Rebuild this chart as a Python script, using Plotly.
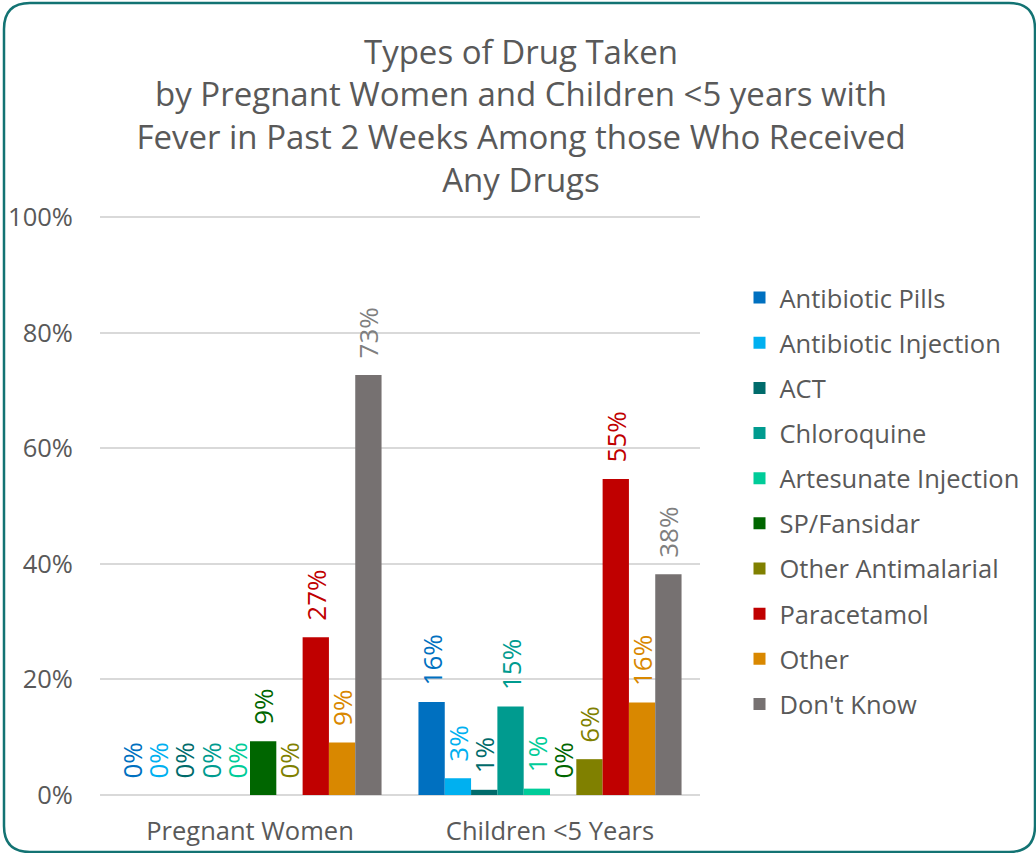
import plotly.graph_objects as go

categories = ["Pregnant Women", "Children <5 Years"]
series_names = ["Antibiotic Pills", "Antibiotic Injection", "ACT", "Chloroquine",
                "Artesunate Injection", "SP/Fansidar", "Other Antimalarial",
                "Paracetamol", "Other", "Don't Know"]
antibiotic_pills = [0, 16.1]
antibiotic_injection = [0, 2.9]
act = [0, 0.9]
chloroquine = [0, 15.3]
artesunate_injection = [0, 1.1]
sp_fansidar = [9.3, 0]
other_antimalarial = [0, 6.2]
paracetamol = [27.3, 54.7]
other = [9.1, 16.0]
dont_know = [72.7, 38.2]
tick_vals = [0, 20, 40, 60, 80, 100]
tick_text = ["0%", "20%", "40%", "60%", "80%", "100%"]

values = [antibiotic_pills, antibiotic_injection, act, chloroquine, artesunate_injection,
          sp_fansidar, other_antimalarial, paracetamol, other, dont_know]
colors = ["#0070C0", "#00B0F0", "#006B6B", "#009B8F", "#00CC99",
          "#006600", "#808000", "#C00000", "#D98800", "#767171"]
label_colors = colors[:-1] + ["#7F7F7F"]

FONT = "Open Sans"
W, H = 1036, 853
# plot area in pixel coords: x 100..700, y 216..795
ML, MT = 100, 216
MR = W - 700
MB = H - 795
PW, PH = W - ML - MR, H - MT - MB
YMAX = 100.2
NB = "\u00a0\u00a0"  # small gap between bar top and rotated label

fig = go.Figure()
for i, (name, vals) in enumerate(zip(series_names, values)):
    fig.add_trace(go.Bar(
        name=name, x=categories, y=vals,
        marker=dict(color=colors[i], line=dict(width=0)),
        text=[f"{NB}{round(v):.0f}%" for v in vals],
        textposition="outside", textangle=-90, constraintext="none",
        cliponaxis=False,
        textfont=dict(family=FONT, size=26, color=label_colors[i]),
        legendgroup=name,
    ))

def P(x, y):
    # pixel -> paper coords
    a = (x - ML) / PW
    b = (H - MB - y) / PH
    return f"{a:.5f},{b:.5f}"

x0, y0, x1, y1, r = 4, 3, 1035, 852, 26
path = (f"M {P(x0 + r, y0)} L {P(x1 - r, y0)} Q {P(x1, y0)} {P(x1, y0 + r)} "
        f"L {P(x1, y1 - r)} Q {P(x1, y1)} {P(x1 - r, y1)} "
        f"L {P(x0 + r, y1)} Q {P(x0, y1)} {P(x0, y1 - r)} "
        f"L {P(x0, y0 + r)} Q {P(x0, y0)} {P(x0 + r, y0)} Z")

fig.update_layout(
    width=W, height=H,
    margin=dict(l=ML, r=MR, t=MT, b=MB),
    paper_bgcolor="white", plot_bgcolor="white",
    font=dict(family=FONT, color="#595959"),
    title=dict(
        text="Types of Drug Taken<br>by Pregnant Women and Children <5 years with<br>"
             "Fever in Past 2 Weeks Among those Who Received<br>Any Drugs",
        x=521 / W, xanchor="center", xref="container",
        y=(H - 63.5) / H, yanchor="middle", yref="container",
        font=dict(family=FONT, size=33, color="#595959"),
    ),
    barmode="group", bargap=0.123, bargroupgap=0,
    legend=dict(xref="container", yref="container",
                x=(756 - 16.5) / W, xanchor="left",
                y=1 - 501 / H, yanchor="middle", maxheight=1,
                font=dict(family=FONT, size=25.5, color="#595959"),
                tracegroupgap=9, bgcolor="rgba(0,0,0,0)"),
    xaxis=dict(showgrid=False, showline=False, ticks="outside", ticklen=13,
               tickcolor="rgba(0,0,0,0)", automargin=False,
               tickfont=dict(family=FONT, size=25.5, color="#595959")),
    yaxis=dict(range=[0, YMAX], tickvals=tick_vals, ticktext=tick_text,
               showgrid=True, gridcolor="#D9D9D9", gridwidth=1.5,
               zeroline=True, zerolinecolor="#D9D9D9", zerolinewidth=1.5,
               ticks="outside", ticklen=21, tickcolor="rgba(0,0,0,0)",
               automargin=False,
               tickfont=dict(family=FONT, size=25.5, color="#595959")),
    shapes=[dict(type="path", xref="paper", yref="paper", path=path,
                 line=dict(color="#137373", width=2.5), fillcolor="rgba(0,0,0,0)",
                 layer="above")],
    showlegend=True,
)

fig.write_html(
    "out.html",
    config={"displayModeBar": False},
    post_script="document.body.style.margin='0';document.body.style.overflow='hidden';"
                "document.documentElement.style.overflow='hidden';",
)
